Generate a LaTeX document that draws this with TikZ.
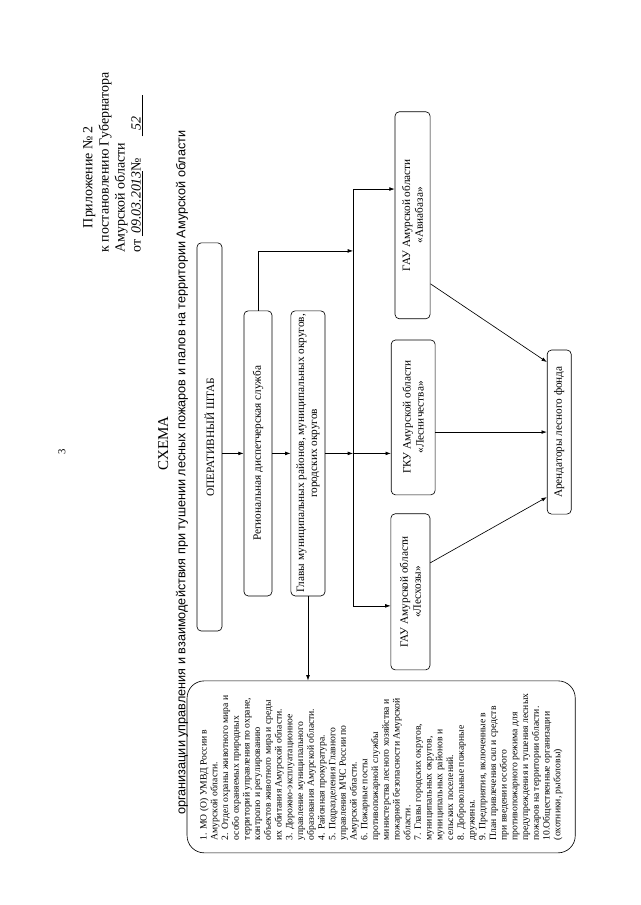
\documentclass[tikz,border=0pt]{standalone}
\usepackage{fontspec}
\setmainfont{Liberation Serif}
\newfontfamily\arialfont{Liberation Sans}
\usetikzlibrary{arrows.meta,calc}
\tikzset{
  box/.style={draw, rounded corners=4pt, rotate=90, align=center, inner sep=2pt,
    font=\fontsize{10.5}{12}\selectfont},
  listbox/.style={draw, rounded corners=16pt, rotate=90, align=left, inner sep=3pt,
    font=\fontsize{9}{10}\selectfont}
}
\begin{document}
\begin{tikzpicture}[line width=0.6pt, >={Latex[length=5pt,width=3.5pt]}]
\useasboundingbox[fill=white] (0,0) rectangle (20.99,29.68);
% header
\node[rotate=90, font=\fontsize{10}{12}\selectfont] (pagenum) at (2.03,14.86) {3};
\node[rotate=90, anchor=north west, align=left, inner sep=0pt, font=\fontsize{13}{15}\selectfont] (head) at (2.72,21.39) {\hspace*{0.8cm}Приложение № 2\\к постановлению Губернатора\\Амурской области\\от \underline{\textit{\,09.03.2013}}№\hspace{0.7cm}\underline{\hspace{0.2cm}\textit{52}\hspace{0.7cm}}};
\node[rotate=90, font=\fontsize{14}{16}\selectfont] (title) at (5.35,15.14) {СХЕМА};
\node[rotate=90, font=\arialfont\fontsize{11.8}{14}\selectfont] (subtitle) at (5.97,14.18) {организации управления и взаимодействия при тушении лесных пожаров и палов на территории Амурской области};
% boxes
\node[box, minimum width=12.73cm, minimum height=0.82cm] (shtab) at (6.87,15.35) {ОПЕРАТИВНЫЙ ШТАБ};
\node[box, minimum width=9.35cm, minimum height=0.92cm] (rds) at (8.46,14.81) {Региональная диспетчерская служба};
\node[box, minimum width=9.35cm, minimum height=1.12cm] (glavy) at (10.10,14.81) {Главы муниципальных районов, муниципальных округов,\\городских округов};
\node[box, minimum width=6.79cm, minimum height=1.15cm] (avia) at (13.53,22.62) {ГАУ Амурской области\\«Авиабаза»};
\node[box, minimum width=5.08cm, minimum height=1.44cm] (lesn) at (13.55,15.99) {ГКУ Амурской области\\«Лесничества»};
\node[box, minimum width=5.12cm, minimum height=1.28cm] (leskh) at (13.46,10.27) {ГАУ Амурской области\\«Лесхозы»};
\node[box, minimum width=5.38cm, minimum height=0.79cm] (arend) at (18.34,15.51) {Арендаторы лесного фонда};
\node[listbox, minimum width=5.64cm, minimum height=12.73cm] (list) at (12.50,4.53) {1. МО (О) УМВД России в\\Амурской области.\\2. Отдел охраны животного мира и\\особо охраняемых природных\\территорий управления по охране,\\контролю и регулированию\\объектов животного мира и среды\\их обитания Амурской области.\\3. Дорожно-эксплуатационное\\управление муниципального\\образования Амурской области.\\4. Районная прокуратура.\\5. Подразделения Главного\\управления МЧС России по\\Амурской области.\\6. Пожарные посты\\противопожарной службы\\министерства лесного хозяйства и\\пожарной безопасности Амурской\\области.\\7. Главы городских округов,\\муниципальных округов,\\муниципальных районов и\\сельских поселений.\\8. Добровольные пожарные\\дружины.\\9. Предприятия, включенные в\\План привлечения сил и средств\\при введении особого\\противопожарного режима для\\предупреждения и тушения лесных\\пожаров на территории области.\\10.Общественные организации\\(охотники, рыболовы)};
% bus line
\coordinate (bustop) at (11.58,23.48);
\coordinate (busA) at (11.58,21.45);
\coordinate (bus) at (11.58,14.81);
\coordinate (busbot) at (11.58,9.81);
\draw (bustop) -- (busbot);
% connectors
\draw[->] (shtab.south |- rds.north) -- (rds.north);
\draw[->] (rds.south) -- (glavy.north);
\draw[->] (glavy.south) -- (bus);
\draw[->] (bus) -- (bus -| lesn.north);
\draw[->] (rds.east) |- (busA);
\draw[->] (bustop) -- (bustop -| avia.north);
\draw[->] (busbot) -- (busbot -| leskh.north);
\draw[->] (glavy.west) -- (glavy.west |- list.east);
\draw[->] ($(avia.south)!0.66!(avia.south west)$) -- ($(arend.north)!0.85!(arend.north east)$);
\draw[->] (lesn.south |- arend.north) -- (arend.north);
\draw[->] ($(leskh.south)!0.37!(leskh.south east)$) -- ($(arend.north)!0.79!(arend.north west)$);
\end{tikzpicture}
\end{document}
